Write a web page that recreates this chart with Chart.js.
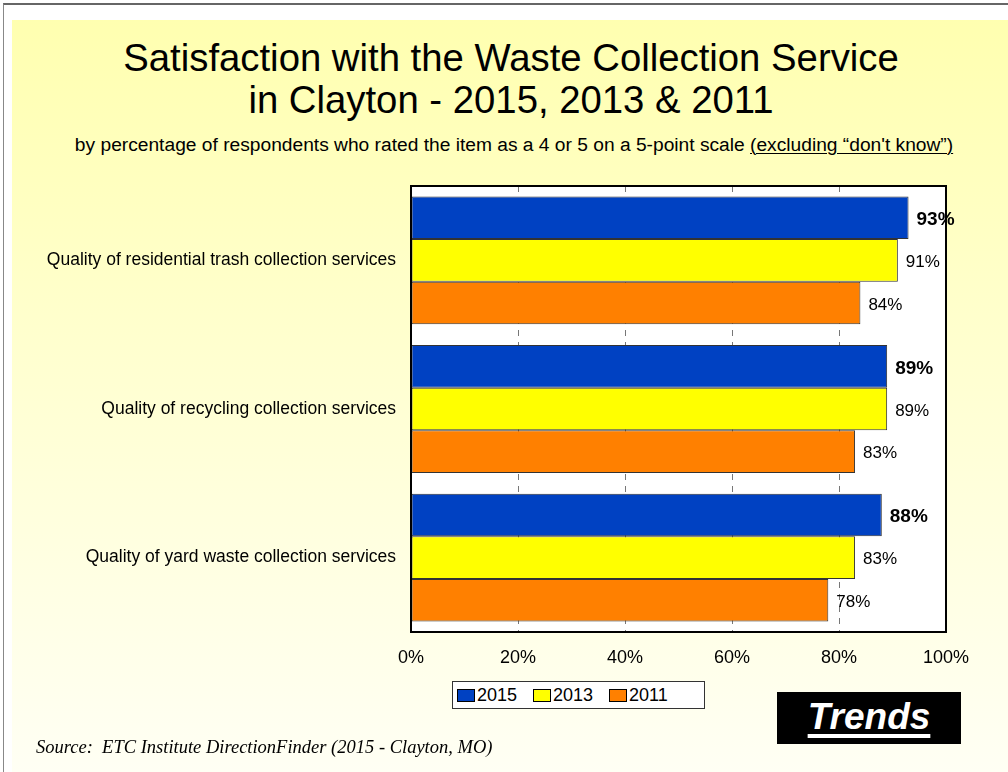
<!DOCTYPE html>
<html><head><meta charset="utf-8">
<script src="https://cdn.jsdelivr.net/npm/chart.js@4"></script>
<style>
body{margin:0;width:1008px;height:772px;overflow:hidden;background:#fff;position:relative;font-family:"Liberation Sans",Arial,sans-serif;}
#frame{position:absolute;left:3px;top:3px;width:1020px;height:800px;border-left:1px solid #888;border-top:2px solid #666;}
#panel{position:absolute;left:12px;top:20px;right:0;bottom:0;background:linear-gradient(#ffffb0 0%,#ffffd0 45%,#fffff4 100%);}
#title{position:absolute;left:0;width:1022px;top:37px;text-align:center;font-size:38.3px;line-height:42px;color:#000;}
#sub{position:absolute;left:0;width:1028px;top:134px;text-align:center;font-size:19.2px;color:#000;white-space:nowrap;}
#sub u{text-decoration-thickness:1px;text-underline-offset:2px;}
canvas{position:absolute;left:0;top:0;}
#legend{position:absolute;left:452px;top:681px;width:251px;height:26px;background:#fff;border:1px solid #333;display:flex;align-items:center;font-size:18px;}
#legend .it{display:flex;align-items:center;margin-left:4px;margin-right:12px;}
#legend .sw{width:16px;height:11px;border:1px solid #000;margin-right:2px;}
#trends{position:absolute;left:777px;top:692px;width:184px;height:52px;background:#000;color:#fff;font-weight:bold;font-style:italic;font-size:37px;text-align:center;line-height:50px;}
#trends span{text-decoration:underline;text-decoration-thickness:4px;text-underline-offset:5px;}
#source{position:absolute;left:36px;top:737px;font-family:"Liberation Serif","Times New Roman",serif;font-style:italic;font-size:18.5px;white-space:pre;}
</style></head>
<body>
<div id="frame"></div>
<div id="panel"></div>
<div id="title">Satisfaction with the Waste Collection Service<br>in Clayton - 2015, 2013 &amp; 2011</div>
<div id="sub">by percentage of respondents who rated the item as a 4 or 5 on a 5-point scale <u>(excluding “don't know”)</u></div>
<canvas id="c" width="1008" height="772"></canvas>
<div id="legend"></div>
<div id="trends"><span>Trends</span></div>
<div id="source">Source:  ETC Institute DirectionFinder (2015 - Clayton, MO)</div>
<script>
const categories = ["Quality of residential trash collection services","Quality of recycling collection services","Quality of yard waste collection services"];
const seriesNames = ["2015","2013","2011"];
const values2015 = [93, 89, 88];
const values2013 = [91, 89, 83];
const values2011 = [84, 83, 78];
const xTicks = [0,20,40,60,80,100];
const colors = ["#0041C2","#FFFF00","#FF8000"];

const lg = document.getElementById('legend');
seriesNames.forEach((n,i)=>{
  const it=document.createElement('div');it.className='it';
  const sw=document.createElement('div');sw.className='sw';sw.style.background=colors[i];
  const t=document.createElement('span');t.textContent=n;
  it.appendChild(sw);it.appendChild(t);lg.appendChild(it);
});

const bgPlugin={id:'bg',
  beforeDraw(ch){const a=ch.chartArea,c=ch.ctx;c.save();c.fillStyle='#fff';c.fillRect(a.left,a.top,a.right-a.left,a.bottom-a.top);c.restore();},
  afterDatasetsDraw(ch){const a=ch.chartArea,c=ch.ctx;c.save();
    c.strokeStyle='#000';c.lineWidth=2;c.strokeRect(a.left,a.top,a.right-a.left,a.bottom-a.top);
    ch.data.datasets.forEach((ds,di)=>{
      const meta=ch.getDatasetMeta(di);
      meta.data.forEach((el,i)=>{
        c.font=(di===0?'bold 19px':'17px')+' "Liberation Sans",Arial,sans-serif';
        c.fillStyle='#000';c.textBaseline='middle';c.textAlign='left';
        c.fillText(ds.data[i]+'%',el.x+8,el.y+2);
      });
    });
    c.restore();}
};

new Chart(document.getElementById('c'),{
  type:'bar',
  data:{labels:categories,datasets:[
    {label:seriesNames[0],data:values2015,backgroundColor:colors[0]},
    {label:seriesNames[1],data:values2013,backgroundColor:colors[1]},
    {label:seriesNames[2],data:values2011,backgroundColor:colors[2]}
  ].map(d=>Object.assign(d,{borderColor:'#333',borderWidth:1,borderSkipped:false,categoryPercentage:0.86,barPercentage:1.0}))},
  options:{
    indexAxis:'y',responsive:false,animation:false,
    layout:{padding:{left:0,top:186,right:62,bottom:92}},
    plugins:{legend:{display:false},tooltip:{enabled:false}},
    scales:{
      x:{min:0,max:100,afterBuildTicks(s){s.ticks=xTicks.map(v=>({value:v}));},
        afterFit(s){s.height=48;},
        grid:{drawTicks:false,color:(ctx)=>(ctx.tick&&(ctx.tick.value===0||ctx.tick.value===100))?'rgba(0,0,0,0)':'#777',lineWidth:1},
        border:{display:false,dash:[6,6]},
        ticks:{padding:15,color:'#000',font:{size:18,family:'"Liberation Sans",Arial,sans-serif'},callback:v=>v+'%'}},
      y:{afterFit(s){s.width=411;},grid:{display:false,drawTicks:false},border:{display:false},
        ticks:{padding:15,color:'#000',font:{size:17.5,family:'"Liberation Sans",Arial,sans-serif'}}}
    }
  },
  plugins:[bgPlugin]
});
</script>
</body></html>
